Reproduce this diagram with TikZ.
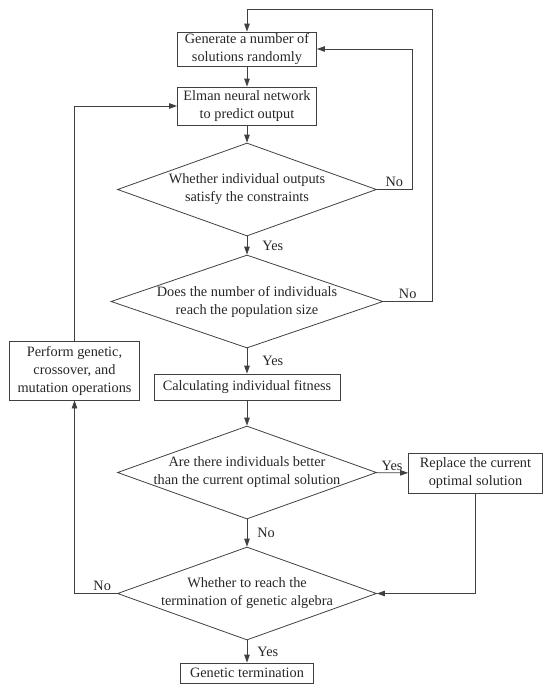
\documentclass[tikz,border=0pt]{standalone}
\usepackage{fontspec}
\setmainfont{Liberation Serif}
\usetikzlibrary{shapes.geometric,arrows.meta}

\begin{document}
\begin{tikzpicture}[x=1pt,y=-1pt,
    every node/.style={font=\fontsize{14.3}{18}\selectfont,text=black!85},
    box/.style={draw=black!75,line width=0.8pt,rectangle,align=center,inner sep=0pt},
    decide/.style={draw=black!75,line width=0.8pt,diamond,inner sep=0pt,minimum width=259pt,minimum height=93pt},
    flow/.style={draw=black!75,line width=0.8pt,-{Triangle[length=8pt,width=5.5pt]}},
    ans/.style={inner sep=2pt}]
    \useasboundingbox (0,0) rectangle (550,694);

    \node[box,minimum width=139pt,minimum height=34pt] (gen) at (247,49) {Generate a number of\\solutions randomly};
    \node[box,minimum width=139pt,minimum height=38pt] (elman) at (247,106) {Elman neural network\\to predict output};
    \node[decide,label={[align=center]center:Whether individual outputs\\satisfy the constraints}] (check) at (247,189.5) {};
    \node[decide,minimum width=272pt,label={[align=center]center:Does the number of individuals\\reach the population size}] (size) at (247,301.5) {};
    \node[box,minimum width=186pt,minimum height=26pt] (fit) at (247,387) {Calculating individual fitness};
    \node[box,minimum width=130pt,minimum height=59pt] (perform) at (74.5,370.5) {Perform genetic,\\crossover, and\\mutation operations};
    \node[decide,label={[align=center]center:Are there individuals better\\than the current optimal solution}] (better) at (247,472.5) {};
    \node[box,minimum width=134pt,minimum height=40pt] (replace) at (475.5,473) {Replace the current\\optimal solution};
    \node[decide,label={[align=center]center:Whether to reach the\\termination of genetic algebra}] (term) at (247,593.5) {};
    \node[box,minimum width=133pt,minimum height=20pt] (gend) at (247,673) {Genetic termination};
    \coordinate (outer) at (432,9);

    \draw[flow] (gen) -- (elman);
    \draw[flow] (elman) -- (check);
    \draw[flow] (check.east) -- node[ans,above]{No} ++(35,0) |- (gen.east);
    \draw[flow] (check) -- node[ans,right,xshift=13pt]{Yes} (size);
    \draw[flow] (size.east) -- node[ans,above]{No} (size.east -| outer) -- (outer) -| (gen.north);
    \draw[flow] (size) -- node[ans,right,xshift=13pt]{Yes} (fit);
    \draw[flow] (fit) -- (better);
    \draw[flow] (better) -- node[ans,above]{Yes} (replace);
    \draw[flow] (better) -- node[ans,right,xshift=8pt]{No} (term);
    \draw[flow] (replace) |- (term.east);
    \draw[flow] (term.west) -- node[ans,above,pos=0.35]{No} (term.west -| perform) -- (perform);
    \draw[flow] (perform) |- (elman.west);
    \draw[flow] (term) -- node[ans,right,xshift=8pt]{Yes} (gend);
\end{tikzpicture}
\end{document}
